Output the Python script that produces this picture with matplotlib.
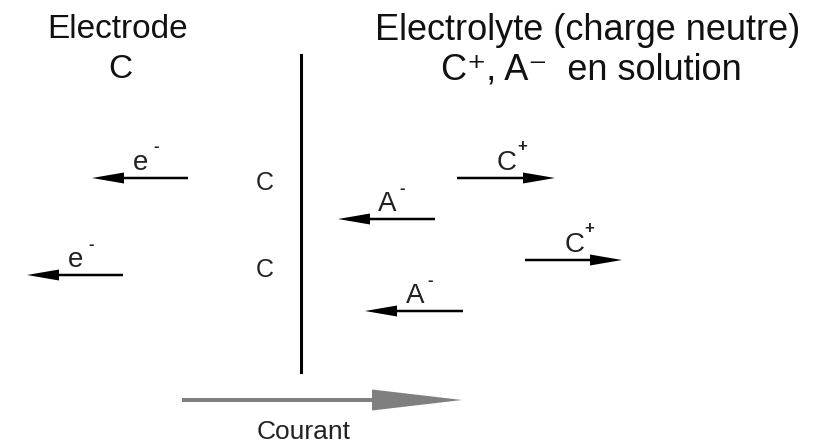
import matplotlib.pyplot as plt

plt.rcParams['font.family'] = ['Liberation Sans', 'DejaVu Sans']

# titres
titles = ['Electrode', 'C', 'Electrolyte (charge neutre)', 'C\u207a, A\u207b  en solution']
title_xy = [(118, 30), (120, 70), (588, 30), (591, 70)]
title_size = [24, 24, 26, 26]

# flèches des électrons (queue x, tête x, y)
e_tail = [188, 123]
e_head = [92, 27]
e_y = [178, 275]

# flèches des anions
a_tail = [435, 463]
a_head = [338, 365]
a_y = [219, 311]

# flèches des cations
c_tail = [457, 525]
c_head = [555, 622]
c_y = [178, 260]

# charges C sur l'électrode
surf_y = [183, 270]

fig = plt.figure(figsize=(8.14, 4.46), dpi=100)
ax = fig.add_axes([0, 0, 1, 1])
ax.set_xlim(0, 814)
ax.set_ylim(446, 0)
ax.axis('off')

for t, (x, y), s in zip(titles, title_xy, title_size):
    ax.text(x, y, t, fontsize=s, ha='center', va='center', color='#111111')

# interface
ax.plot([301, 301], [55, 372], color='black', lw=2.2)

for y in surf_y:
    ax.text(265, y, 'C', fontsize=18, ha='center', va='center', color='#222222')


def ion_arrow(x0, x1, y, label, sign):
    ax.arrow(x0, y, x1 - x0, 0, width=2.5, head_width=11, head_length=32,
             length_includes_head=True, color='black', lw=0)
    xm = (x0 + x1) / 2 + 1
    ax.text(xm, y - 15, label, fontsize=20, ha='center', va='center', color='#222222')
    ax.text(xm + 15, y - 31, sign, fontsize=12, ha='center', va='center',
            color='#222222', fontweight='bold')


for x0, x1, y in zip(e_tail, e_head, e_y):
    ion_arrow(x0, x1, y, 'e', '-')
for x0, x1, y in zip(a_tail, a_head, a_y):
    ion_arrow(x0, x1, y, 'A', '-')
for x0, x1, y in zip(c_tail, c_head, c_y):
    ion_arrow(x0, x1, y, 'C', '+')

# courant
ax.arrow(182, 400, 280, 0, width=4, head_width=21, head_length=90,
         length_includes_head=True, color='#7f7f7f', lw=0)
ax.text(304, 432, 'Courant', fontsize=19, ha='center', va='center', color='#222222')

fig.savefig('out.png', dpi=100)
